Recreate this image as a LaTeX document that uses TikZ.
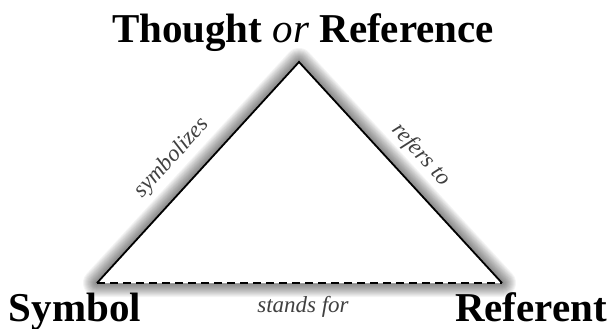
\documentclass[tikz,border=0pt]{standalone}
\usepackage{fontspec}
\setmainfont{Liberation Serif}
\usetikzlibrary{positioning,calc}

\begin{document}
\begin{tikzpicture}[x=1pt,y=-1pt,
    corner/.style={font=\fontsize{41}{41}\selectfont\bfseries, anchor=base, inner sep=0pt},
    relation/.style={font=\fontsize{23}{23}\selectfont\itshape, text=black!75, inner sep=0pt},
    edge/.style={line width=1.8pt, line join=miter},
    glow/.style={line width=#1, draw=black, opacity=0.045, line join=round}]
\useasboundingbox (0,0) rectangle (614,329);

% corners of the triangle
\coordinate (apex) at (299,62);
\coordinate (lft)  at (97,283);
\coordinate (rgt)  at (502,283);

% soft shadow round the triangle
\foreach \w in {4,6,...,28}
  \draw[glow=\w pt] (apex) -- (lft) -- (rgt) -- cycle;
\fill[white] (apex) -- (lft) -- (rgt) -- cycle;

\draw[edge] (lft) -- (apex) -- (rgt);
\draw[edge, dash pattern=on 8pt off 5pt] (lft) -- (rgt);

% labels
\node[corner] (thought) at (303,43) {Thought \textmd{\itshape or} Reference};
\node[corner] (symbol) at (75,321) {Symbol};
\node[corner] (referent) at (531,321) {Referent};

\node[relation, anchor=base] (standsfor) at (303,312) {stands for};
\node[relation, rotate=47.6] (symbolizes) at (172,158) {symbolizes};
\node[relation, rotate=-47.6] (refersto) at (421,155) {refers to};
\end{tikzpicture}
\end{document}
